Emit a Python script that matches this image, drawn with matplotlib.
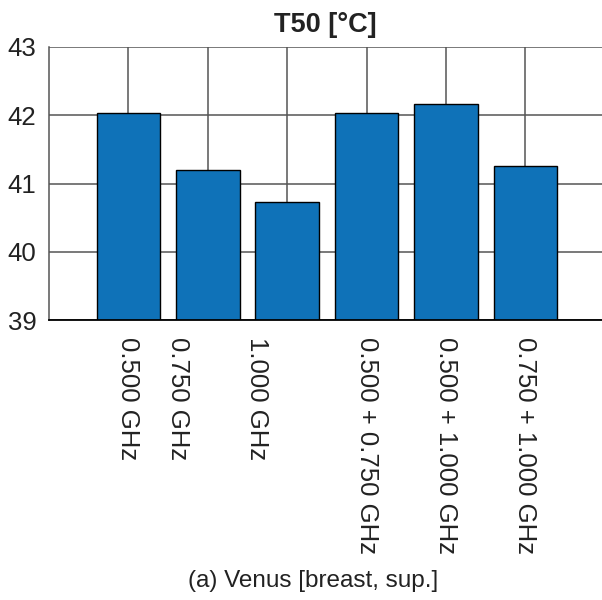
import matplotlib
matplotlib.use("Agg")
import matplotlib.pyplot as plt
import matplotlib.transforms as mtransforms

categories = ["0.500 GHz", "0.750 GHz", "1.000 GHz",
              "0.500 + 0.750 GHz", "0.500 + 1.000 GHz", "0.750 + 1.000 GHz"]
values = [42.03, 41.20, 40.73, 42.04, 42.16, 41.25]
yticks = [39, 40, 41, 42, 43]
title = "T50 [°C]"
xlabel = "(a) Venus [breast, sup.]"

plt.rcParams['font.family'] = ['Liberation Sans', 'DejaVu Sans']

W, H = 602, 600
fig = plt.figure(figsize=(W / 100, H / 100), dpi=100)
ax = fig.add_axes([49 / W, 1 - 320 / H, (W - 49) / W, (320 - 47) / H])

positions = list(range(1, len(categories) + 1))
ax.bar(positions, values, width=0.8, bottom=0, color='#0f72b8',
       edgecolor='black', linewidth=1.0, zorder=3)

ax.set_xlim(0, 6.965)
ax.set_ylim(39, 43)
ax.set_yticks(yticks)
ax.set_xticks(positions)
ax.set_xticklabels(categories, rotation=-90, ha='center', va='top',
                   rotation_mode='default')

ax.grid(True, color='#555555', linewidth=1.1, zorder=0)
ax.set_axisbelow(True)
for s in ['top', 'right']:
    ax.spines[s].set_visible(False)
ax.spines['left'].set_color('#555555')
ax.spines['left'].set_linewidth(1.1)
ax.spines['bottom'].set_color('black')
ax.spines['bottom'].set_linewidth(1.3)
ax.spines['bottom'].set_zorder(4)

ax.tick_params(axis='x', length=0, pad=12, labelsize=18.5, labelcolor='#222222')
ax.tick_params(axis='y', length=0, pad=9, labelsize=18.5, labelcolor='#222222')

# reference places the 2nd and 3rd labels slightly left of their bars
shift = mtransforms.ScaledTranslation(-30 / 100, 0, fig.dpi_scale_trans)
labels = ax.get_xticklabels()
for i in (1, 2):
    labels[i].set_transform(labels[i].get_transform() + shift)

ax.set_title(title, fontsize=19.5, fontweight='bold', pad=10.8, color='#222222')
fig.text(313 / W, 1 - 587 / H, xlabel, ha='center', va='baseline',
         fontsize=17.5, color='#222222')

fig.savefig("out.png", dpi=100)
